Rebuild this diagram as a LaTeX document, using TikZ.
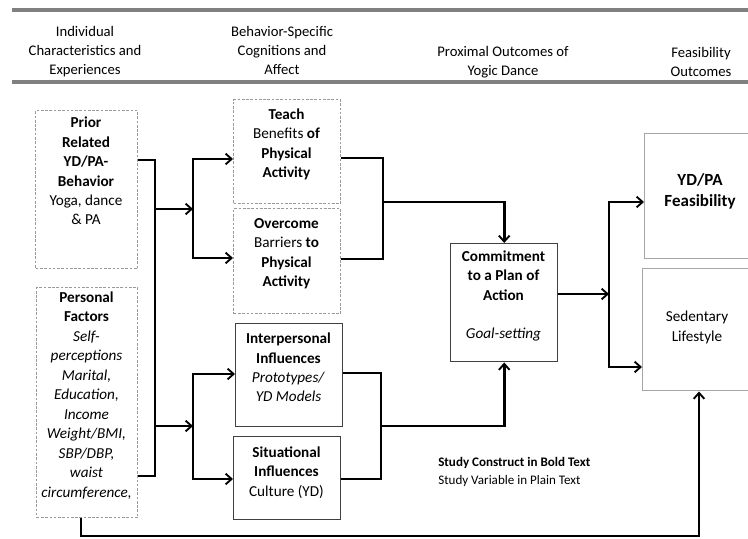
\documentclass[tikz,border=0pt]{standalone}
\usepackage{fontspec}
\setmainfont{Carlito}
\usetikzlibrary{arrows.meta,calc}
\newdimen\px \px=0.75pt
\begin{document}
\begin{tikzpicture}[x=0.75pt,y=-0.75pt,
 dbox/.style={draw=black!40, line width=1.1pt, dash pattern=on 2pt off 1.2pt, inner sep=0, anchor=north west},
 sbox/.style={draw=black!75, line width=1.1pt, inner sep=0, anchor=north west},
 lbox/.style={draw=black!35, line width=1.1pt, inner sep=0, anchor=north west},
 txt/.style={align=center, font=\fontsize{11.4pt}{14.6pt}\selectfont, inner sep=0},
 hdr/.style={align=center, font=\fontsize{11pt}{14.25pt}\selectfont, inner sep=0},
 big/.style={align=center, font=\fontsize{12.75pt}{15.75pt}\selectfont\bfseries, inner sep=0},
 leg/.style={align=left, anchor=west, font=\fontsize{9.8pt}{13.5pt}\selectfont, inner sep=0},
 rule/.style={draw=black!50, line width=2.4pt},
 conn/.style={draw=black, line width=1.9pt},
 arr/.style={conn, -{Straight Barb[length=4.5pt, width=8pt, line width=1.4pt]}}
]
\clip (0,0) rectangle (748,538);
% header
\coordinate (hl1) at (12,10); \coordinate (hr1) at (748,10);
\coordinate (hl2) at (12,82); \coordinate (hr2) at (748,82);
\draw[rule] (hl1) -- (hr1);
\draw[rule] (hl2) -- (hr2);
\node[hdr] (h1) at (85,52) {Individual\\Characteristics and\\Experiences};
\node[hdr] (h2) at (282,50.5) {Behavior-Specific\\Cognitions and\\Affect};
\node[hdr] (h3) at (503,62) {Proximal Outcomes of\\Yogic Dance};
\node[hdr] (h4) at (701,62) {Feasibility\\Outcomes};
% boxes
\node[dbox, minimum width=102\px, minimum height=158\px] (prior) at (35,110) {};
\node[dbox, minimum width=101\px, minimum height=230\px] (pers) at (36,287) {};
\node[dbox, minimum width=107\px, minimum height=104\px] (teach) at (233,99) {};
\node[dbox, minimum width=107\px, minimum height=105\px] (over) at (233,208) {};
\node[sbox, minimum width=107\px, minimum height=103\px] (inter) at (235,323) {};
\node[sbox, minimum width=107\px, minimum height=83\px] (sit) at (233,436) {};
\node[sbox, minimum width=107\px, minimum height=118\px] (commit) at (450,243) {};
\node[lbox, minimum width=130\px, minimum height=125\px] (feas) at (644,133) {};
\node[lbox, minimum width=130\px, minimum height=122\px] (sed) at (642,268) {};
% texts
\node[txt] (priorT) at (86,171) {\textbf{Prior}\\\textbf{Related}\\\textbf{YD/PA-}\\\textbf{Behavior}\\Yoga, dance\\\& PA};
\node[txt] (persT) at (86.5,395.5) {\textbf{Personal}\\\textbf{Factors}\\\textit{Self-}\\\textit{perceptions}\\\textit{Marital,}\\\textit{Education,}\\\textit{Income}\\\textit{Weight/BMI,}\\\textit{SBP/DBP,}\\\textit{waist}\\\textit{circumference,}};
\node[txt] (teachT) at (286.5,144.5) {\textbf{Teach}\\Benefits \textbf{of}\\\textbf{Physical}\\\textbf{Activity}};
\node[txt] (overT) at (286.5,253.5) {\textbf{Overcome}\\Barriers \textbf{to}\\\textbf{Physical}\\\textbf{Activity}};
\node[txt] (interT) at (288.5,367.5) {\textbf{Interpersonal}\\\textbf{Influences}\\\textit{Prototypes/}\\\textit{YD Models}};
\node[txt] (sitT) at (286.5,472.5) {\textbf{Situational}\\\textbf{Influences}\\Culture (YD)};
\node[txt] (commitT) at (503.5,296) {\textbf{Commitment}\\\textbf{to a Plan of}\\\textbf{Action}\\[14.6pt]\textit{Goal-setting}};
\node[big] (feasT) at (700,191.5) {YD/PA\\Feasibility};
\node[txt] (sedT) at (697,327.5) {Sedentary\\Lifestyle};
\node[leg] (legT) at (438,472) {\textbf{Study Construct in Bold Text}\\Study Variable in Plain Text};
% junctions
\coordinate (jA) at (155,160);
\coordinate (jB) at (155,476);
\coordinate (jC) at (155,209);
\coordinate (jD) at (155,426);
\coordinate (bA) at (193,209);
\coordinate (bAt) at (193,159);
\coordinate (bAb) at (193,258);
\coordinate (bB) at (193,426);
\coordinate (bBt) at (193,374);
\coordinate (bBb) at (193,479);
\coordinate (mA) at (383,202);
\coordinate (mAt) at (383,158);
\coordinate (mAb) at (383,259);
\coordinate (mB) at (381,426);
\coordinate (mBt) at (381,373);
\coordinate (mBb) at (381,479);
\coordinate (cA) at (609,294);
\coordinate (cAt) at (609,202);
\coordinate (cAb) at (609,367);
\coordinate (pb) at (81,536);
\coordinate (pbr) at (699,536);
% connectors
\draw[conn] (prior.east|-jA) -- (jA) -- (jB) -- (pers.east|-jB);
\draw[arr] (jC) -- (bA);
\draw[arr] (jD) -- (bB);
\draw[arr] (bAb) -- (bAt) -- (teach.west|-bAt);
\draw[arr] (bAt) -- (bAb) -- (over.west|-bAb);
\draw[arr] (bBb) -- (bBt) -- (inter.west|-bBt);
\draw[arr] (bBt) -- (bBb) -- (sit.west|-bBb);
\draw[conn] (teach.east|-mAt) -- (mAt) -- (mAb) -- (over.east|-mAb);
\draw[arr] (mA) -| (commit.north);
\draw[conn] (inter.east|-mBt) -- (mBt) -- (mBb) -- (sit.east|-mBb);
\draw[arr] (mB) -| (commit.south);
\draw[arr] (commit.east|-cA) -- (cA);
\draw[arr] (cAb) -- (cAt) -- (feas.west|-cAt);
\draw[arr] (cAt) -- (cAb) -- (sed.west|-cAb);
\draw[arr] (pers.south-|pb) -- (pb) -- (pbr) -- (sed.south-|pbr);
\end{tikzpicture}
\end{document}
